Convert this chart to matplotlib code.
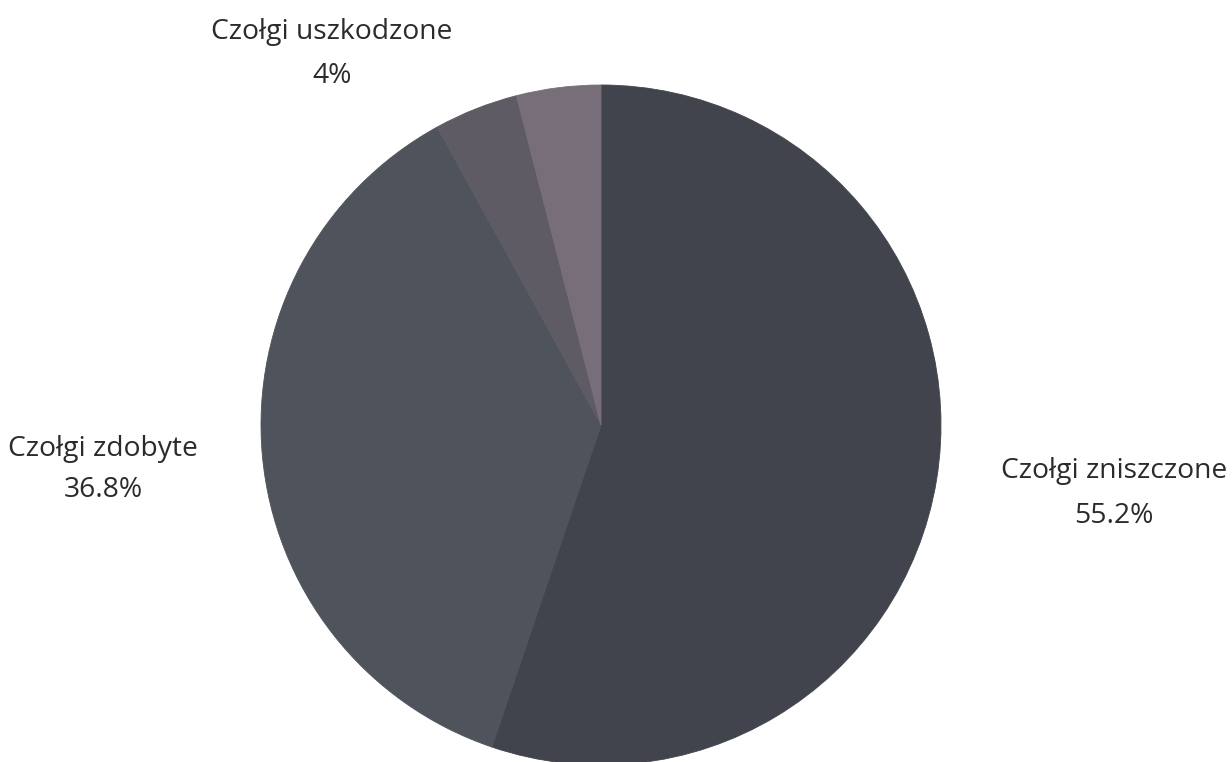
import matplotlib
matplotlib.use("Agg")
import matplotlib.pyplot as plt

categories = ["Czołgi zniszczone", "Czołgi zdobyte", "", "Czołgi uszkodzone"]
values = [55.2, 36.8, 4.0, 4.0]
pct_labels = ["55.2%", "36.8%", "", "4%"]
colors = ["#41444c", "#4f535b", "#5e5b65", "#786e7a"]

W, H = 1232, 762
fig = plt.figure(figsize=(W / 100, H / 100), dpi=100)
ax = fig.add_axes([0, 0, 1, 1])

wedges, _ = ax.pie(values, colors=colors, startangle=90, counterclock=False,
                   center=(601, H - 425), radius=340, frame=True,
                   wedgeprops=dict(linewidth=0.6))
for w, c in zip(wedges, colors):
    w.set_edgecolor(c)
ax.set_xlim(0, W)
ax.set_ylim(0, H)
ax.set_aspect("equal")
ax.axis("off")

# label positions (center x, baseline y of line 1, baseline y of line 2) in pixels from top
label_pos = {0: (1114, 478, 523), 1: (103, 456, 497), 3: (332, 39, 83)}
font = dict(family=["Open Sans", "DejaVu Sans"], fontsize=20.3, color="#2b2b2b")
for i, (x, y1, y2) in label_pos.items():
    ax.text(x, H - y1, categories[i], ha="center", va="baseline", **font)
    ax.text(x, H - y2, pct_labels[i], ha="center", va="baseline", **font)

fig.savefig("out.png", dpi=100, facecolor="white")
